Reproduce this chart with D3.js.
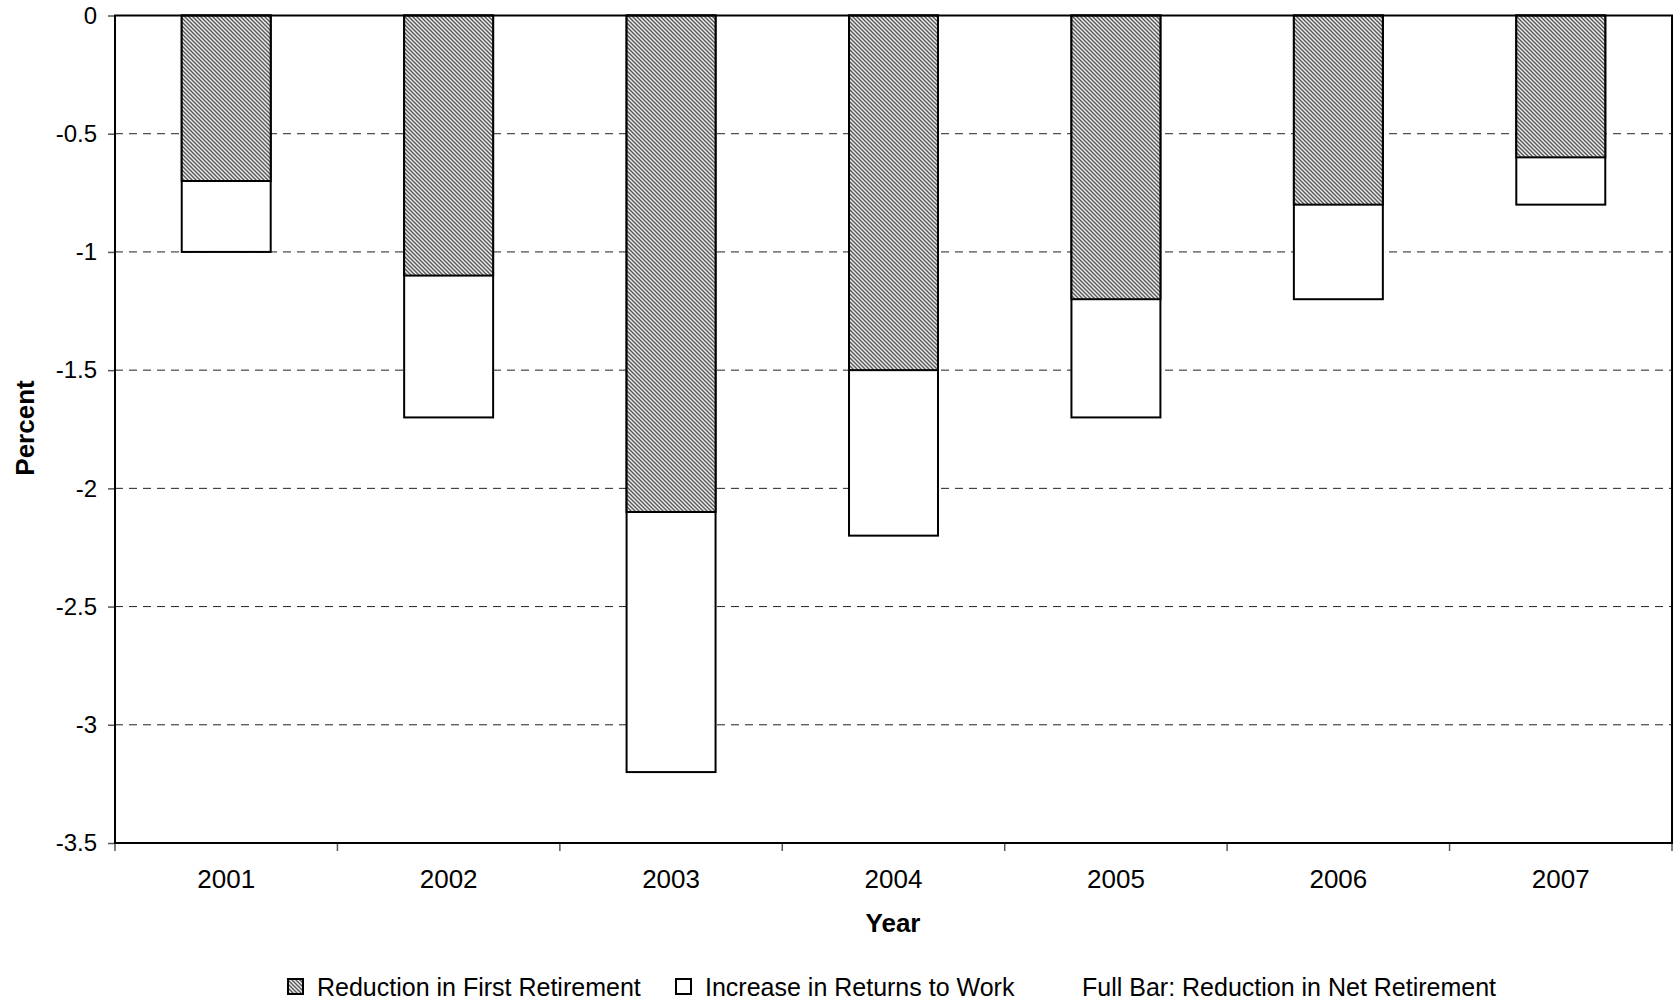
<!DOCTYPE html>
<html>
<head>
<meta charset="utf-8">
<script src="https://cdn.jsdelivr.net/npm/d3@7"></script>
<style>
  html, body { margin: 0; padding: 0; background: #fff; }
  svg { display: block; font-family: "Liberation Sans", Arial, sans-serif; }
</style>
</head>
<body>
<svg id="chart" width="1673" height="1004"></svg>
<script>
// Years on the category axis
const years = ["2001", "2002", "2003", "2004", "2005", "2006", "2007"];
// Reduction in first retirement (hatched part, percent)
const firstRetirement = [-0.7, -1.1, -2.1, -1.5, -1.2, -0.8, -0.6];
// Full bar: reduction in net retirement (percent)
const netRetirement = [-1.0, -1.7, -3.2, -2.2, -1.7, -1.2, -0.8];
// Y axis tick values and labels
const yTicks = [0, -0.5, -1, -1.5, -2, -2.5, -3, -3.5];
const yTickLabels = ["0", "-0.5", "-1", "-1.5", "-2", "-2.5", "-3", "-3.5"];
// Legend entries
const legendLabels = ["Reduction in First Retirement", "Increase in Returns to Work", "Full Bar: Reduction in Net Retirement"];

const svg = d3.select("#chart");
const margin = { left: 115, top: 15.5, right: 1672, bottom: 843 };

const x = d3.scaleBand().domain(years).range([margin.left, margin.right]).paddingInner(0.6).paddingOuter(0.3);
const xEdges = d3.scaleBand().domain(years).range([margin.left, margin.right]).padding(0);
const y = d3.scaleLinear().domain([0, -3.5]).range([margin.top, margin.bottom]);

// Diagonal hatch fill
const defs = svg.append("defs");
const pat = defs.append("pattern")
  .attr("id", "hatch").attr("patternUnits", "userSpaceOnUse")
  .attr("width", 4).attr("height", 4);
pat.append("rect").attr("width", 4).attr("height", 4).attr("fill", "#eaeaea");
pat.append("path").attr("d", "M-1,-1 L5,5 M-1,3 L1,5 M3,-1 L5,1")
  .attr("stroke", "#555").attr("stroke-width", 1.3);

// Dashed gridlines
svg.append("g").selectAll("line").data(yTicks.filter(d => d !== 0 && d !== -3.5)).join("line")
  .attr("x1", margin.left).attr("x2", margin.right)
  .attr("y1", d => y(d)).attr("y2", d => y(d))
  .attr("stroke", "#222").attr("stroke-width", 1).attr("stroke-dasharray", "8,6");

// Y axis
const yAxis = svg.append("g").attr("transform", `translate(${margin.left},0)`)
  .call(d3.axisLeft(y).tickValues(yTicks).tickFormat((d, i) => yTickLabels[i]).tickSize(7).tickPadding(11));
yAxis.select(".domain").remove();
yAxis.selectAll(".tick line").attr("stroke", "#555").attr("stroke-width", 1.5);
yAxis.selectAll(".tick text").attr("font-size", 24).attr("fill", "#000")
  .attr("font-family", "Liberation Sans, Arial, sans-serif");

// X axis ticks at category boundaries
const bounds = years.map(d => xEdges(d)).concat([margin.right]);
svg.append("g").selectAll("line").data(bounds).join("line")
  .attr("x1", d => d).attr("x2", d => d)
  .attr("y1", margin.bottom).attr("y2", margin.bottom + 8)
  .attr("stroke", "#555").attr("stroke-width", 1.5);
svg.append("g").selectAll("text").data(years).join("text")
  .attr("x", d => xEdges(d) + xEdges.bandwidth() / 2)
  .attr("y", 888).attr("text-anchor", "middle")
  .attr("font-size", 26).text(d => d);

// Bars: white full bar with hatched first-retirement part on top
const bars = svg.append("g");
bars.selectAll("rect.net").data(years).join("rect").attr("class", "net")
  .attr("x", d => x(d)).attr("width", x.bandwidth())
  .attr("y", y(0)).attr("height", (d, i) => y(netRetirement[i]) - y(0))
  .attr("fill", "#fff").attr("stroke", "#000").attr("stroke-width", 2);
bars.selectAll("rect.first").data(years).join("rect").attr("class", "first")
  .attr("x", d => x(d)).attr("width", x.bandwidth())
  .attr("y", y(0)).attr("height", (d, i) => y(firstRetirement[i]) - y(0))
  .attr("fill", "url(#hatch)").attr("stroke", "#000").attr("stroke-width", 2);

// Plot frame
svg.append("rect")
  .attr("x", margin.left).attr("y", margin.top)
  .attr("width", margin.right - margin.left).attr("height", margin.bottom - margin.top)
  .attr("fill", "none").attr("stroke", "#000").attr("stroke-width", 2);

// Axis titles
svg.append("text").attr("x", 893).attr("y", 932).attr("text-anchor", "middle")
  .attr("font-size", 26).attr("font-weight", "bold").text("Year");
svg.append("text").attr("transform", "translate(34,428) rotate(-90)").attr("text-anchor", "middle")
  .attr("font-size", 26).attr("font-weight", "bold").text("Percent");

// Legend
const lg = svg.append("g");
lg.append("rect").attr("x", 288).attr("y", 979).attr("width", 15).attr("height", 15)
  .attr("fill", "url(#hatch)").attr("stroke", "#000").attr("stroke-width", 2);
lg.append("text").attr("x", 317).attr("y", 996).attr("font-size", 25).text(legendLabels[0]);
lg.append("rect").attr("x", 676).attr("y", 979).attr("width", 15).attr("height", 15)
  .attr("fill", "#fff").attr("stroke", "#000").attr("stroke-width", 2);
lg.append("text").attr("x", 705).attr("y", 996).attr("font-size", 25).text(legendLabels[1]);
lg.append("text").attr("x", 1082).attr("y", 996).attr("font-size", 25).text(legendLabels[2]);
</script>
</body>
</html>
